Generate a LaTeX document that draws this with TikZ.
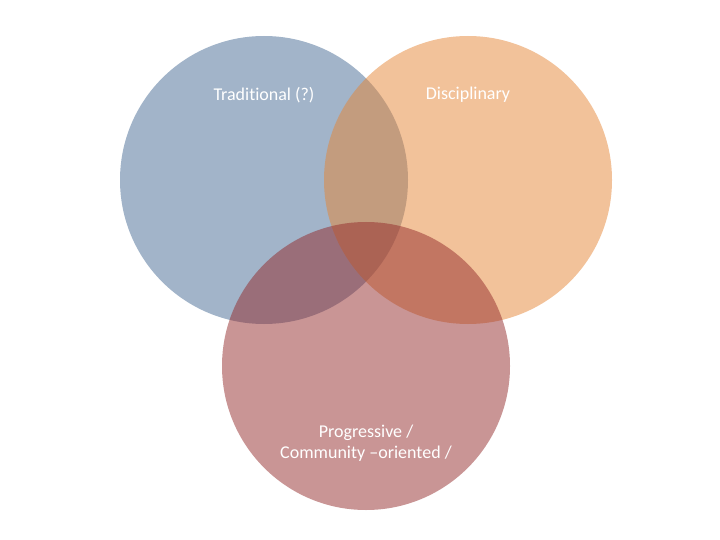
\documentclass[tikz,border=0pt]{standalone}
\usepackage{fontspec}
\setmainfont{Carlito}[Ligatures=NoCommon]
\usepackage{xcolor}
\usepackage{tikz}

\definecolor{tradblue}{RGB}{69,105,147}
\definecolor{discorange}{RGB}{229,133,53}
\definecolor{progred}{RGB}{147,43,43}

\begin{document}
\begin{tikzpicture}[x=1pt, y=-1pt]
        \useasboundingbox (0,0) rectangle (720,540);
        % 三个集合
        \fill [tradblue, opacity=0.5] (264,180) circle (144);
        \fill [discorange, opacity=0.5] (468,180) circle (144);
        \fill [progred, opacity=0.5] (366,366) circle (144);
        % 标签
        \node [white, font=\fontsize{18}{21}\selectfont] (trad) at (264,95) {Traditional (?)};
        \node [white, font=\fontsize{18}{21}\selectfont] (disc) at (468,95) {Disciplinary};
        \node [white, align=center, font=\fontsize{18}{21}\selectfont] (prog) at (366,443) {Progressive /\\Community --oriented /};
    \end{tikzpicture}
\end{document}
